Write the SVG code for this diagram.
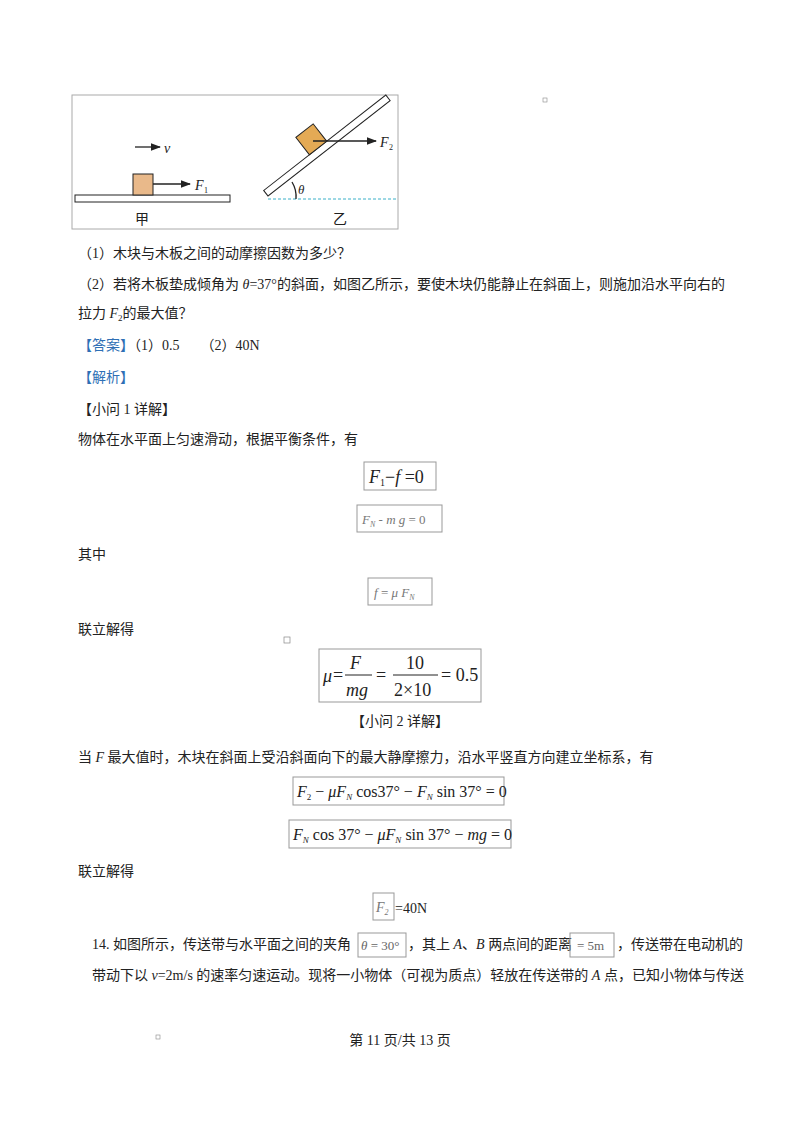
<svg xmlns="http://www.w3.org/2000/svg" width="800" height="1132" viewBox="0 0 800 1132" font-size="14">
<defs>
<style>
.t{font-family:"Liberation Serif","Noto Sans CJK SC",serif;fill:#222}
.m{font-family:"Liberation Serif",serif;font-style:italic;fill:#222}
.b{fill:none;stroke:#999;stroke-width:1}
.bl{fill:#2e6fb5}
.ln{stroke:#222;stroke-width:1.3;fill:none}
</style>
<marker id="ar" markerWidth="8" markerHeight="6" refX="7" refY="3" orient="auto"><path d="M0,0 L8,3 L0,6 Z" fill="#222"/></marker>
</defs>
<rect width="800" height="1132" fill="#fff"/>
<g id="figure">
<rect x="72" y="95" width="326" height="134" fill="none" stroke="#aaa"/>
<rect x="75" y="195" width="155" height="7" fill="#fff" stroke="#222"/>
<rect x="133" y="174" width="20" height="21" fill="#e9b98a" stroke="#222"/>
<line class="ln" x1="153" y1="184" x2="190" y2="184" marker-end="url(#ar)"/>
<text class="m" x="195" y="190" font-size="14">F</text><text class="t" x="204" y="193" font-size="8">1</text>
<line class="ln" x1="135" y1="147" x2="160" y2="147" marker-end="url(#ar)"/>
<text class="m" x="164" y="153" font-size="14">v</text>
<line x1="268" y1="199" x2="398" y2="199" stroke="#3ab0c8" stroke-width="1" stroke-dasharray="3,2"/>
<g transform="translate(268,196) rotate(-38)">
<rect x="0" y="-7" width="155" height="7" fill="#fff" stroke="#222"/>
<rect x="58" y="-29" width="22" height="22" fill="#e4aa55" stroke="#222"/>
</g>
<line class="ln" x1="313" y1="141" x2="376" y2="141" marker-end="url(#ar)"/>
<text class="m" x="380" y="147" font-size="14">F</text><text class="t" x="389" y="150" font-size="8">2</text>
<path d="M292,182 A28,28 0 0 1 296,199" class="ln" stroke-width="1"/>
<text class="m" x="298" y="194" font-size="13">θ</text>
<text class="t" x="135" y="224">甲</text>
<text class="t" x="333" y="224">乙</text>
</g>
<g id="text">
<rect x="543" y="98" width="4" height="4" fill="none" stroke="#888" stroke-width="0.6"/>
<text class="t" x="78" y="258">（1）木块与木板之间的动摩擦因数为多少？</text>
<text class="t" x="78" y="289">（2）若将木板垫成倾角为 <tspan font-style="italic">θ</tspan>=37°的斜面，如图乙所示，要使木块仍能静止在斜面上，则施加沿水平向右的</text>
<text class="t" x="78" y="318">拉力 <tspan font-style="italic">F</tspan><tspan font-size="9" dy="3">2</tspan><tspan dy="-3">的最大值？</tspan></text>
<text class="t" x="78" y="350"><tspan class="bl">【答案】</tspan>（1）0.5　　（2）40N</text>
<text class="t bl" x="78" y="382">【解析】</text>
<text class="t" x="78" y="414">【小问 1 详解】</text>
<text class="t" x="78" y="444">物体在水平面上匀速滑动，根据平衡条件，有</text>
<rect class="b" x="364" y="462" width="72" height="28"/>
<text class="m" x="369" y="483" font-size="18">F<tspan font-size="10" font-style="normal" dy="3">1</tspan><tspan font-style="normal" dy="-3">−</tspan>f<tspan font-style="normal"> =0</tspan></text>
<rect class="b" x="357" y="505" width="85" height="27"/>
<text class="m" x="362" y="524" font-size="13" style="fill:#777">F<tspan font-size="8" dy="3">N</tspan><tspan dy="-3" font-style="normal"> - </tspan>m g<tspan font-style="normal"> = 0</tspan></text>
<text class="t" x="78" y="559">其中</text>
<rect class="b" x="368" y="578" width="64" height="27"/>
<text class="m" x="374" y="597" font-size="13" style="fill:#777">f<tspan font-style="normal"> = </tspan>μ F<tspan font-size="8" dy="3">N</tspan></text>
<text class="t" x="78" y="634">联立解得</text>
<rect x="284" y="637" width="6" height="6" fill="none" stroke="#888" stroke-width="0.7"/>
<rect class="b" x="319" y="649" width="162" height="53"/>
<text class="m" x="323" y="682" font-size="18">μ</text>
<text class="t" x="333" y="681" font-size="18">=</text>
<text class="m" x="350" y="669" font-size="18">F</text>
<line x1="345" y1="675" x2="372" y2="675" stroke="#222"/>
<text class="m" x="346" y="696" font-size="18">mg</text>
<text class="t" x="376" y="681" font-size="18">=</text>
<text class="t" x="406" y="669" font-size="18">10</text>
<line x1="393" y1="675" x2="438" y2="675" stroke="#222"/>
<text class="t" x="394" y="696" font-size="18">2×10</text>
<text class="t" x="441" y="681" font-size="18">= 0.5</text>
<text class="t" x="400" y="726" text-anchor="middle">【小问 2 详解】</text>
<text class="t" x="78" y="762">当 <tspan font-style="italic">F</tspan> 最大值时，木块在斜面上受沿斜面向下的最大静摩擦力，沿水平竖直方向建立坐标系，有</text>
<rect class="b" x="293" y="777" width="211" height="28"/>
<text class="m" x="297" y="797" font-size="16">F<tspan font-size="9" font-style="normal" dy="3">2</tspan><tspan dy="-3" font-style="normal"> − </tspan>μF<tspan font-size="9" dy="3">N</tspan><tspan dy="-3" font-style="normal"> cos37° − </tspan>F<tspan font-size="9" dy="3">N</tspan><tspan dy="-3" font-style="normal"> sin 37° = 0</tspan></text>
<rect class="b" x="289" y="820" width="222" height="28"/>
<text class="m" x="293" y="840" font-size="16">F<tspan font-size="9" dy="3">N</tspan><tspan dy="-3" font-style="normal"> cos 37° − </tspan>μF<tspan font-size="9" dy="3">N</tspan><tspan dy="-3" font-style="normal"> sin 37° − </tspan>mg<tspan font-style="normal"> = 0</tspan></text>
<text class="t" x="78" y="876">联立解得</text>
<rect class="b" x="373" y="893" width="21" height="27"/>
<text class="m" x="376" y="912" font-size="14" style="fill:#777">F<tspan font-size="8" dy="3">2</tspan></text>
<text class="t" x="395" y="913">=40N</text>
<text class="t" x="92" y="949">14. 如图所示，传送带与水平面之间的夹角</text>
<rect class="b" x="358" y="933" width="48" height="24"/>
<text class="t" x="361" y="950" font-size="13" style="fill:#666"><tspan font-style="italic">θ</tspan> = 30°</text>
<text class="t" x="408" y="949">，其上 <tspan font-style="italic">A</tspan>、<tspan font-style="italic">B</tspan> 两点间的距离</text>
<rect class="b" x="570" y="933" width="44" height="24"/>
<text class="t" x="577" y="950" font-size="13" style="fill:#666">= 5m</text>
<text class="t" x="617" y="949">，传送带在电动机的</text>
<text class="t" x="92" y="980">带动下以 <tspan font-style="italic">v</tspan>=2m/s 的速率匀速运动。现将一小物体（可视为质点）轻放在传送带的 <tspan font-style="italic">A</tspan> 点，已知小物体与传送</text>
<rect x="156" y="1035" width="4" height="4" fill="none" stroke="#888" stroke-width="0.6"/>
<text class="t" x="400" y="1045" text-anchor="middle">第 11 页/共 13 页</text>
</g>
</svg>
